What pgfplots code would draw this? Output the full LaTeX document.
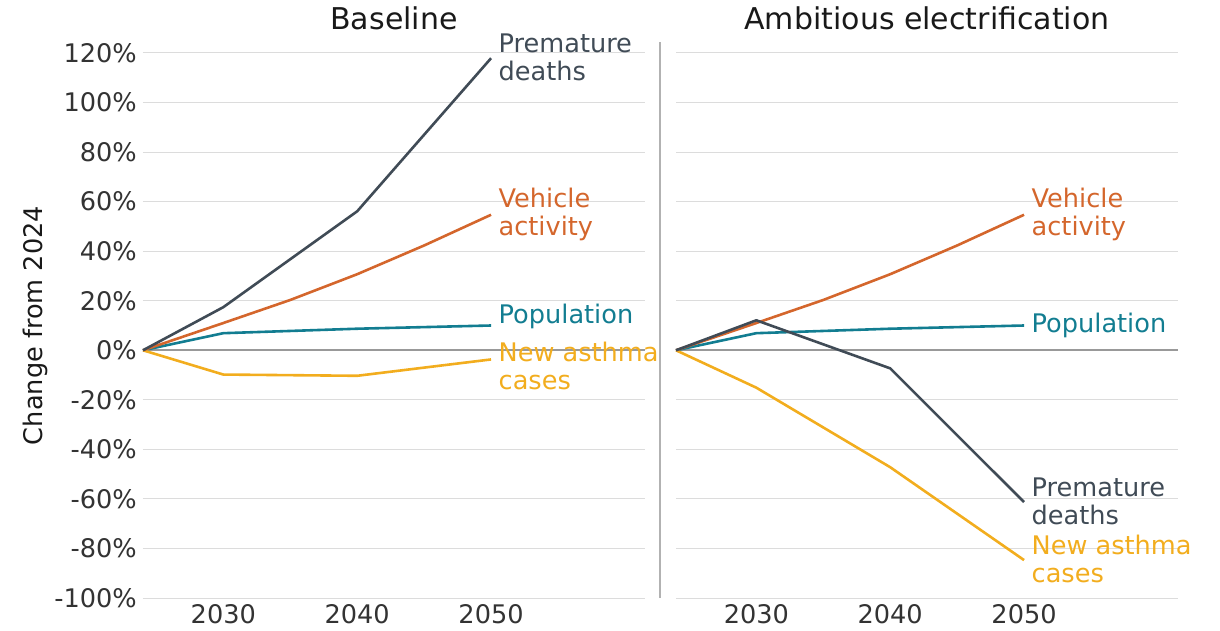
\documentclass[border=0pt]{standalone}
\usepackage{fontspec}
\setmainfont{DejaVu Sans}
\usepackage{pgfplots}
\pgfplotsset{compat=1.18}
\definecolor{cdeath}{HTML}{404B56}
\definecolor{cveh}{HTML}{D4662C}
\definecolor{cpop}{HTML}{127D91}
\definecolor{casth}{HTML}{F2AD1E}
\definecolor{cgrid}{HTML}{DCDCDC}
\definecolor{ctick}{HTML}{333333}
\tikzset{lab/.style={anchor=west, xshift=3pt, align=left, font=\fontsize{25.6}{28}\selectfont}}
\pgfplotsset{
  panel/.style={
    scale only axis, width=502pt, height=545pt,
    xmin=2024, xmax=2061.5, ymin=-100, ymax=120,
    clip=false,
    axis line style={draw=none},
    major tick length=0pt,
    tick style={draw=none},
    xtick={2030,2040,2050},
    xticklabels={2030,2040,2050},
    ytick={-100,-80,-60,-40,-20,0,20,40,60,80,100,120},
    ymajorgrids,
    grid style={cgrid, line width=1pt},
    ticklabel style={font=\fontsize{25.6}{28}\selectfont, text=ctick},
    xticklabel style={inner sep=0pt, yshift=-6pt},
    yticklabel style={inner sep=0pt, xshift=-6pt},
    title style={at={(0.5,1)}, anchor=center, yshift=29pt, font=\fontsize{30}{34}\selectfont, text=black!90},
    every axis plot/.append style={line width=2.6pt, line join=round},
  }
}
\begin{document}
\begin{tikzpicture}
\useasboundingbox (-143pt,-32pt) rectangle (1077pt,598pt);
\begin{axis}[panel, at={(0pt,0pt)}, anchor=south west, title={Baseline},
  yticklabels={-100\%,-80\%,-60\%,-40\%,-20\%,0\%,20\%,40\%,60\%,80\%,100\%,120\%},
  ylabel={Change from 2024},
  ylabel style={at={(axis description cs:-0.215,0.5)}, anchor=center, font=\fontsize{25.6}{28}\selectfont, text=black!90}]
\addplot[color=black!40, line width=2pt] coordinates {(2024,0) (2061.5,0)};
\addplot[cpop] coordinates {(2024,0) (2030,6.9) (2040,8.7) (2050,10.0)}
  node[lab, pos=1, text=cpop, yshift=9pt] {Population};
\addplot[casth] coordinates {(2024,0) (2030,-9.8) (2040,-10.3) (2050,-3.7)}
  node[lab, pos=1, text=casth, yshift=-7pt] {New asthma\\cases};
\addplot[cveh] coordinates {(2024,0) (2030,11) (2035,20.3) (2040,30.7) (2045,42.3) (2050,54.7)}
  node[lab, pos=1, text=cveh] {Vehicle\\activity};
\addplot[cdeath] coordinates {(2024,0) (2030,17.4) (2040,56.1) (2050,117.9)}
  node[lab, pos=1, text=cdeath, yshift=1pt] {Premature\\deaths};
\end{axis}
\draw[color=black!30, line width=1.5pt] (517pt,0pt) -- (517pt,556pt);
\begin{axis}[panel, at={(533pt,0pt)}, anchor=south west, title={Ambitious electrification},
  yticklabels={}]
\addplot[color=black!40, line width=2pt] coordinates {(2024,0) (2061.5,0)};
\addplot[cpop] coordinates {(2024,0) (2030,6.9) (2040,8.7) (2050,10.0)}
  node[lab, pos=1, text=cpop] {Population};
\addplot[casth] coordinates {(2024,0) (2030,-15.1) (2040,-47.2) (2050,-84.7)}
  node[lab, pos=1, text=casth, yshift=1pt] {New asthma\\cases};
\addplot[cveh] coordinates {(2024,0) (2030,11) (2035,20.3) (2040,30.7) (2045,42.3) (2050,54.7)}
  node[lab, pos=1, text=cveh] {Vehicle\\activity};
\addplot[cdeath] coordinates {(2024,0) (2030,12.1) (2040,-7.3) (2050,-61.3)}
  node[lab, pos=1, text=cdeath, yshift=1pt] {Premature\\deaths};
\end{axis}
\end{tikzpicture}
\end{document}
